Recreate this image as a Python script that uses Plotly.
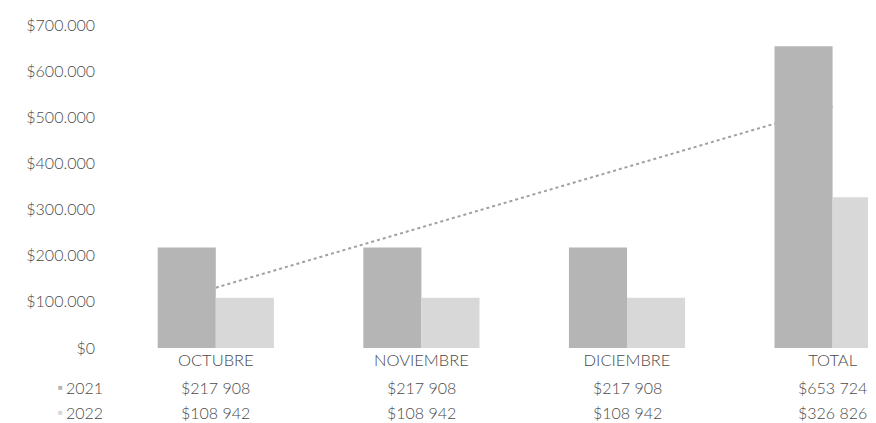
import plotly.graph_objects as go

categories = ["OCTUBRE", "NOVIEMBRE", "DICIEMBRE", "TOTAL"]
series_names = ["2021", "2022"]
values_2021 = [217908, 217908, 217908, 653724]
values_2022 = [108942, 108942, 108942, 326826]
trend_2021 = [130745, 522979]  # linear trendline of 2021 (start, end)
y_tickvals = [0, 100000, 200000, 300000, 400000, 500000, 600000, 700000]
y_ticktext = ["$0", "$100.000", "$200.000", "$300.000", "$400.000",
              "$500.000", "$600.000", "$700.000"]

colors = ["#b5b5b5", "#d8d8d8"]
font_family = "Lato"
text_color = "#4a4a4a"
num_size = 16
cat_size = 16.5

def fmt(v):
    return "$" + f"{v:,}".replace(",", " ")

fig = go.Figure()
for name, vals, col in zip(series_names, [values_2021, values_2022], colors):
    fig.add_trace(go.Bar(x=categories, y=vals, name=name,
                         marker=dict(color=col, line=dict(width=0))))

# trendline, drawn beneath the bars
fig.add_shape(type="line", xref="x", yref="y", layer="below",
              x0=0, x1=len(categories) - 1, y0=trend_2021[0], y1=trend_2021[1],
              line=dict(color="#a0a0a0", width=2, dash="dot"))

# data table under the axis
row_y = [-0.1238, -0.2012]
annotations = []
for ri, (name, vals, col) in enumerate(zip(series_names, [values_2021, values_2022], colors)):
    for c, v in zip(categories, vals):
        annotations.append(dict(x=c, y=row_y[ri], xref="x", yref="paper",
                                text=fmt(v), showarrow=False, xanchor="center",
                                yanchor="middle",
                                font=dict(family=font_family, size=num_size,
                                          color=text_color, weight=300)))
    annotations.append(dict(x=-0.0105, y=row_y[ri], xref="paper", yref="paper",
                            text=name, showarrow=False, xanchor="right",
                            yanchor="middle",
                            font=dict(family=font_family, size=num_size,
                                      color=text_color, weight=300)))
    annotations.append(dict(x=-0.068, y=row_y[ri], xref="paper", yref="paper",
                            text="■", showarrow=False, xanchor="center",
                            yanchor="middle",
                            font=dict(family="DejaVu Sans", size=8, color=col)))

fig.update_layout(
    width=876, height=423,
    margin=dict(l=105, r=0, t=17, b=83),
    paper_bgcolor="white", plot_bgcolor="white",
    barmode="group", bargap=0.435, bargroupgap=0,
    showlegend=False,
    font=dict(family=font_family, size=num_size, color=text_color, weight=300),
    annotations=annotations,
)
fig.update_xaxes(range=[-0.5, 3.25], showgrid=False, zeroline=False,
                 showline=False, ticks="", automargin=False,
                 tickfont=dict(size=cat_size))
fig.update_yaxes(range=[0, 700000], tickvals=y_tickvals, ticktext=y_ticktext,
                 showgrid=False, zeroline=False, showline=False, ticks="",
                 automargin=False, ticklabelstandoff=17,
                 tickfont=dict(size=num_size))

fig.write_html("out.html")
